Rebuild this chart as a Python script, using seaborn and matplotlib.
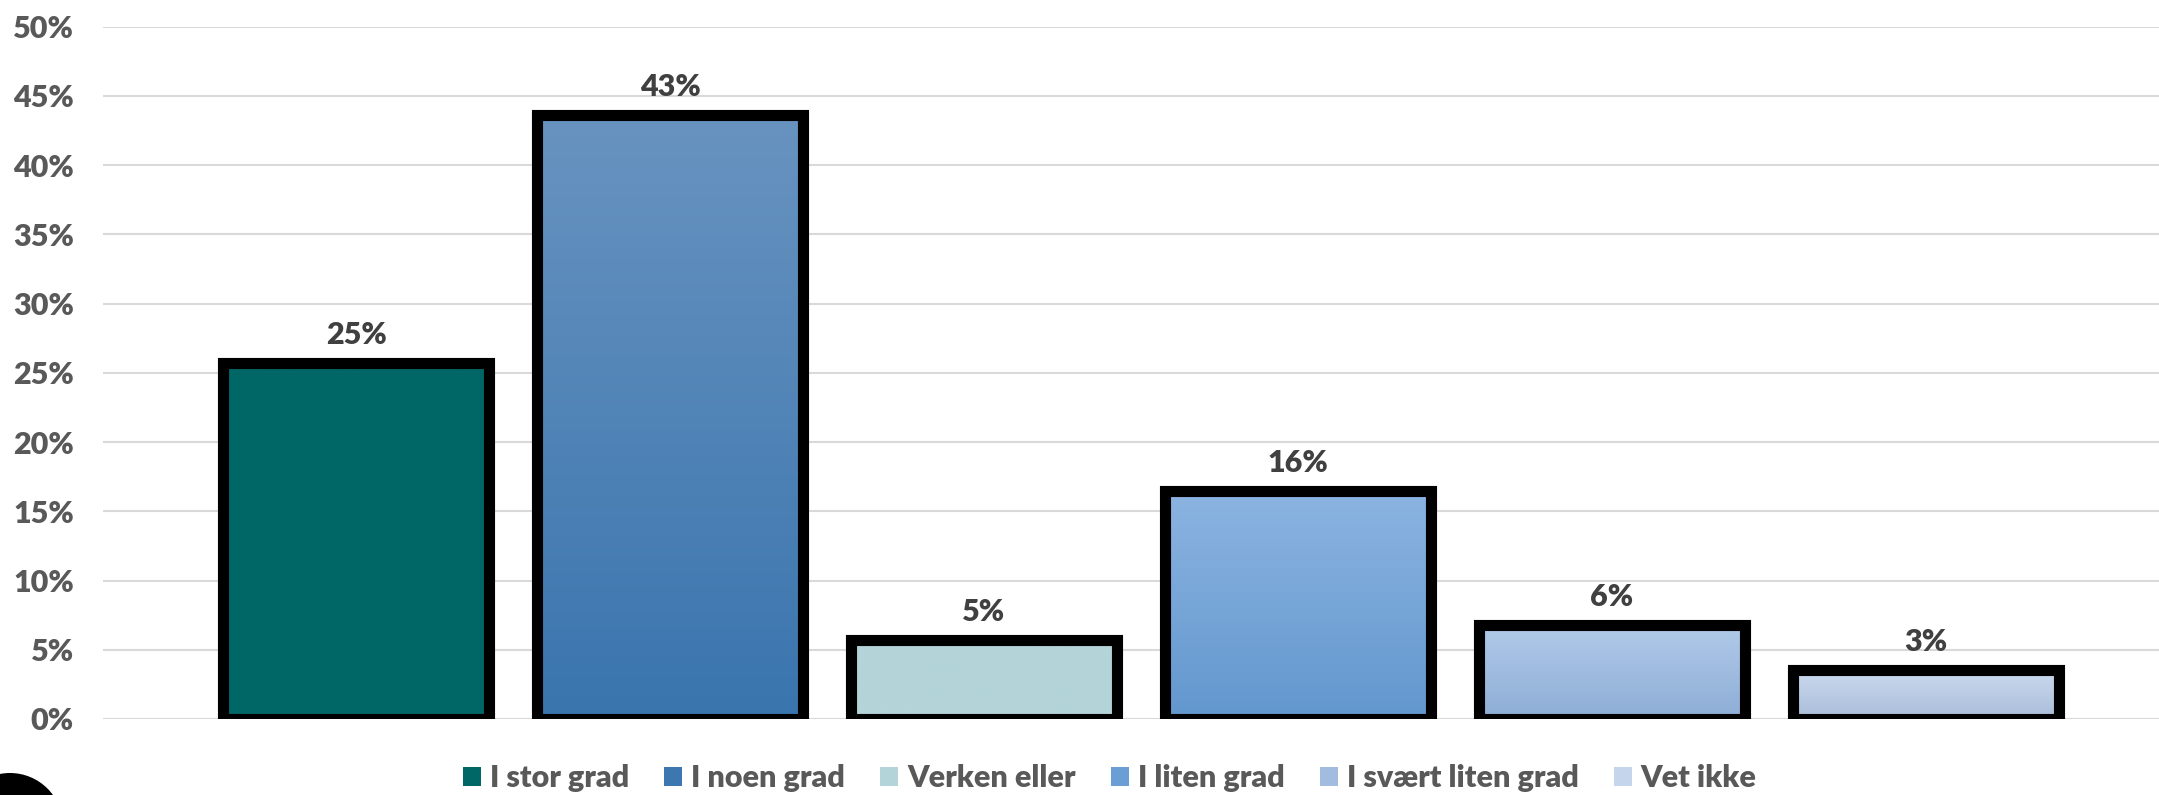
import numpy as np
import matplotlib
matplotlib.use("Agg")
import matplotlib.pyplot as plt
import matplotlib.colors as mcolors
from matplotlib.patches import Patch, Circle
import seaborn as sns

categories = ["I stor grad", "I noen grad", "Verken eller", "I liten grad",
              "I svært liten grad", "Vet ikke"]
values = [25.7, 43.6, 5.7, 16.5, 6.8, 3.55]
value_labels = ["25%", "43%", "5%", "16%", "6%", "3%"]
top_colors = ["#006666", "#6893C0", "#B3D4D8", "#8CB4E1", "#B1CAE9", "#CBDBEF"]
bottom_colors = ["#006666", "#3A75AE", "#B3D4D8", "#6297CE", "#8EADD6", "#AABCD9"]
legend_colors = ["#006666", "#3C77AF", "#B3D4D8", "#6B9ED4", "#A2BCE0", "#C5D5EC"]
yticks = [0, 5, 10, 15, 20, 25, 30, 35, 40, 45, 50]

sns.set_style("white")
plt.rcParams["font.family"] = ["Lato", "DejaVu Sans"]

fig = plt.figure(figsize=(21.59, 7.95), dpi=100)
ax = fig.add_axes([0.0477, 0.0956, 0.9523, 0.8708])

sns.barplot(x=categories, y=values, hue=categories, palette=top_colors,
            legend=False, width=0.845, edgecolor="black", linewidth=8,
            saturation=1, ax=ax, zorder=2)

# gradient fills inside the bars
for patch, c_top, c_bot in zip(ax.patches, top_colors, bottom_colors):
    x0 = patch.get_x()
    x1 = x0 + patch.get_width()
    h = patch.get_height()
    t = np.linspace(0, 1, 200)[:, None]
    rgb_top = np.array(mcolors.to_rgb(c_top))
    rgb_bot = np.array(mcolors.to_rgb(c_bot))
    grad = rgb_bot[None, None, :] * (1 - t[:, :, None]) + rgb_top[None, None, :] * t[:, :, None]
    im = ax.imshow(grad, extent=[x0, x1, 0, h], origin="lower", aspect="auto",
                   zorder=1.5, interpolation="bilinear")
    im.set_clip_path(patch)
    patch.set_facecolor("none")

for patch, lab in zip(ax.patches, value_labels):
    ax.annotate(lab, (patch.get_x() + patch.get_width() / 2, patch.get_height()),
                xytext=(0, 14), textcoords="offset pixels", ha="center", va="bottom",
                fontsize=22, fontweight="heavy", color="#404040")

ax.set_xlim(-0.806, 5.742)
ax.set_ylim(0, 50)
ax.set_yticks(yticks)
ax.set_yticklabels([f"{v}%" for v in yticks], fontsize=22, fontweight="heavy", color="#595959")
ax.set_xticks([])
ax.set_xlabel("")
ax.set_ylabel("")
ax.tick_params(axis="y", length=0, pad=21)
ax.yaxis.grid(True, color="#D9D9D9", linewidth=1.5)
ax.set_axisbelow(True)
for s in ax.spines.values():
    s.set_visible(False)

handles = [Patch(facecolor=c, edgecolor="none", label=l) for c, l in zip(legend_colors, categories)]
fig.legend(handles=handles, loc="center", bbox_to_anchor=(0.514, 0.021), ncol=6,
           frameon=False, handlelength=0.59, handleheight=0.59,
           handletextpad=0.29, columnspacing=1.15,
           prop={"weight": "heavy", "size": 22})
for txt in fig.legends[0].get_texts():
    txt.set_color("#595959")

# dark round shape cut off at the lower left corner
fig.patches.append(Circle((10, 795 - 826), 53, transform=None, facecolor="black",
                          edgecolor="none", figure=fig))

fig.savefig("out.png", dpi=100)
